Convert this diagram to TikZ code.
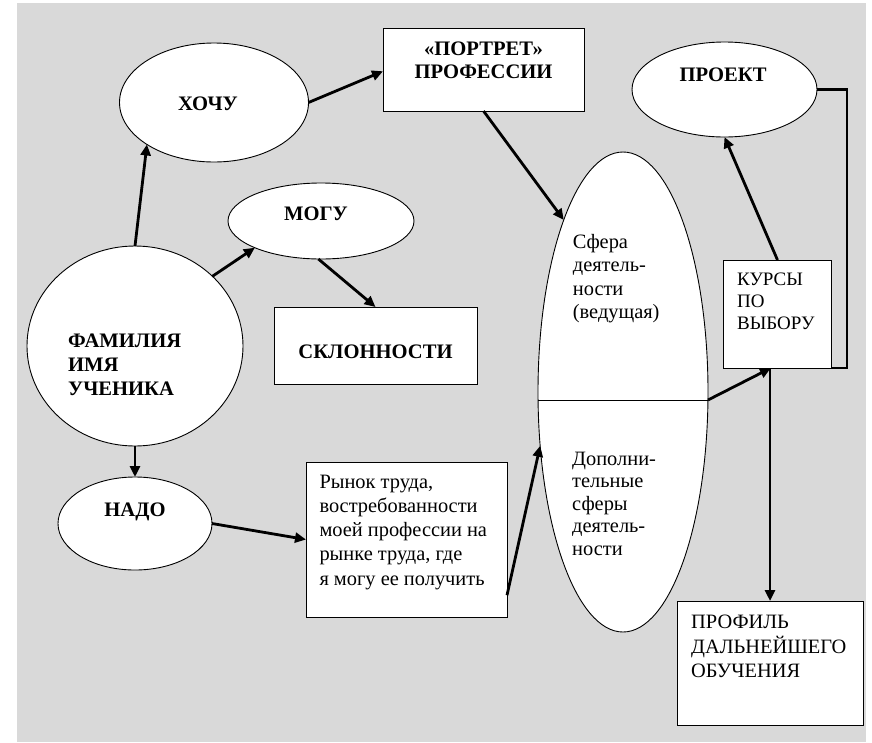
\documentclass[tikz,border=0pt]{standalone}
\usepackage{fontspec}
\setmainfont{Liberation Serif}
\usetikzlibrary{arrows.meta,shapes.geometric}
\definecolor{bggray}{RGB}{217,217,217}
\begin{document}
\begin{tikzpicture}[x=1pt,y=-1pt,
  shp/.style={draw=black,fill=white,line width=0.9pt,inner sep=0pt,outer sep=0pt},
  ell/.style={shp,ellipse},
  box/.style={shp,rectangle},
  con/.style={line width=2.8pt,-{Triangle[length=11pt,width=10pt]}},
  thick line/.style={line width=2.8pt},
  bt/.style={font=\fontsize{20.6}{24}\selectfont\bfseries,inner sep=0pt,anchor=base},
  lt/.style={inner sep=0pt,anchor=north west,align=left},
]
\useasboundingbox (0,0) rectangle (872,742);
\fill[bggray] (17,3) rectangle (866,742);

% shapes
\node[ell,minimum width=216pt,minimum height=200pt] (fam) at (135,346) {};
\node[ell,minimum width=189pt,minimum height=119pt] (hochu) at (214,102.5) {};
\node[ell,minimum width=186pt,minimum height=76pt] (mogu) at (321,221) {};
\node[ell,minimum width=154pt,minimum height=93pt] (nado) at (135,523.5) {};
\node[box,minimum width=201pt,minimum height=83pt] (portret) at (483.5,69.5) {};
\node[box,minimum width=203pt,minimum height=77pt] (skl) at (375.5,345.5) {};
\node[box,minimum width=201pt,minimum height=155pt] (rynok) at (406.5,539.5) {};
\node[ell,minimum width=170pt,minimum height=480pt] (sfera) at (623,392) {};
\node[ell,minimum width=185pt,minimum height=95pt] (proekt) at (724.5,89.5) {};
\node[box,minimum width=108pt,minimum height=108pt] (kursy) at (777.5,314) {};
\node[box,minimum width=186pt,minimum height=124pt] (profil) at (770,663) {};

% divider of the big ellipse
\coordinate (divL) at (538.05,400);
\coordinate (divR) at (707.95,400);
\draw[line width=0.9pt] (divL) -- (divR);

% texts
\node[bt] (tHochu) at (208,110) {ХОЧУ};
\node[bt] (tMogu) at (316,220) {МОГУ};
\node[bt] (tProekt) at (723,81.5) {ПРОЕКТ};
\node[bt] (tNado) at (135,516) {НАДО};
\node[bt] (tSkl) at (375.5,358.5) {СКЛОННОСТИ};
\node[bt] (tPort1) at (483.5,55) {«ПОРТРЕТ»};
\node[bt] (tPort2) at (483.5,78.5) {ПРОФЕССИИ};
\node[lt,font=\fontsize{20.6}{24}\selectfont\bfseries] (tFam) at (68,330.2)
  {\strut ФАМИЛИЯ\\ИМЯ\\УЧЕНИКА};
\node[lt,font=\fontsize{20.4}{23.5}\selectfont] (tSf1) at (572.7,231.55)
  {\strut Сфера\\деятель-\\ности\\(ведущая)};
\node[lt,font=\fontsize{20.4}{22.5}\selectfont] (tSf2) at (572,449.25)
  {\strut Дополни-\\тельные\\сферы\\деятель-\\ности};
\node[lt,font=\fontsize{20.4}{24.25}\selectfont] (tRyn) at (319.3,471)
  {\strut Рынок труда,\\востребованности\\моей профессии на\\рынке труда, где\\я могу ее получить};
\node[lt,font=\fontsize{19}{22}\selectfont] (tKur) at (737,269.6)
  {\strut КУРСЫ\\ПО\\ВЫБОРУ};
\node[lt,font=\fontsize{20.4}{23.5}\selectfont] (tProf) at (691,611.5)
  {\strut ПРОФИЛЬ\\ДАЛЬНЕЙШЕГО\\ОБУЧЕНИЯ};

% connectors
\draw[con] (fam.north) -- (hochu.212.4);
\draw[con] (fam.42.7) -- (mogu.202.2);
\draw[con] (mogu.266) -- (skl.north);
\draw[con] (hochu.east) -- (portret.181.4);
\draw[con] (portret.south) -- (sfera.109.4);
\draw[con] (fam.south) -- (nado.north);
\draw[con] (nado.east) -- (rynok.west);
\draw[con] (rynok.331.97) -- (sfera.213.5);
\draw[con] (divR) -- (kursy.263.1);
\draw[con] (kursy.north) -- (proekt.south);
\coordinate (bend) at (847,368);
\draw[thick line] (proekt.east) -| (bend) -- (kursy.south east);
\draw[con] (profil.north |- kursy.south) -- (profil.north);
\end{tikzpicture}
\end{document}
